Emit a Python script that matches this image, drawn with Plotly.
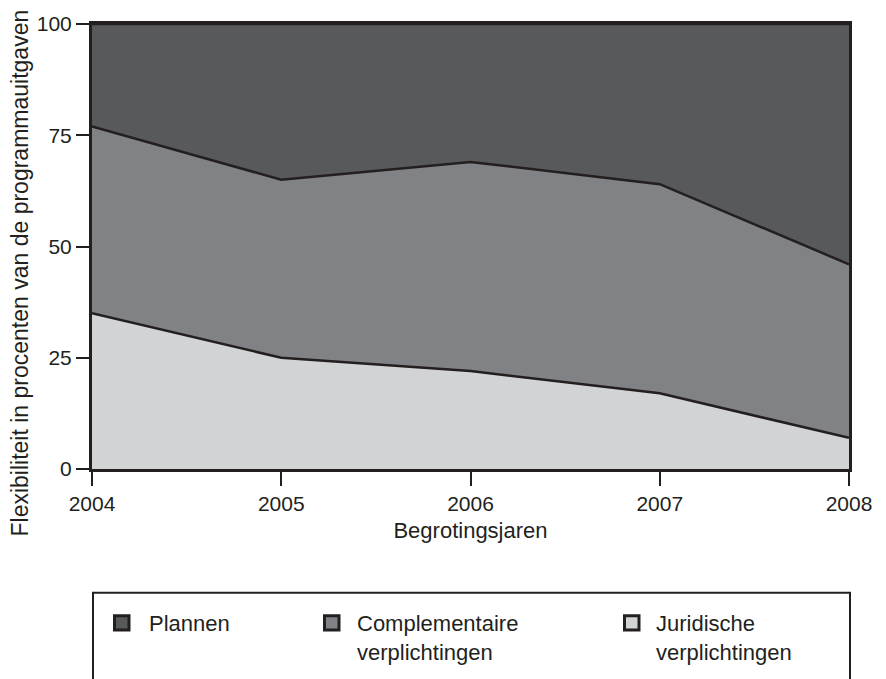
import plotly.graph_objects as go

years = [2004, 2005, 2006, 2007, 2008]
juridische = [35, 25, 22, 17, 7]
complementaire = [42, 40, 47, 47, 39]
plannen = [23, 35, 31, 36, 54]

series_names = ["Plannen", "Complementaire<br>verplichtingen", "Juridische<br>verplichtingen"]
series_colors = ["#58595b", "#808285", "#d1d3d4"]
y_ticks = [0, 25, 50, 75, 100]

INK = "#231f20"
FONT = "Liberation Sans, Arial, sans-serif"

W, H = 886, 679
L, R, T, B = 92, 849, 16, 469

def px(x):
    return (x - L) / (R - L)

def py(y):
    return (B - y) / (B - T)

fig = go.Figure()
for name, vals, col in [("Juridische", juridische, series_colors[2]),
                        ("Complementaire", complementaire, series_colors[1]),
                        ("Plannen", plannen, series_colors[0])]:
    fig.add_trace(go.Scatter(
        x=years, y=vals, name=name, mode="lines", stackgroup="one",
        line=dict(color=INK, width=2.5), fillcolor=col, showlegend=False,
        hoverinfo="skip",
    ))

shapes = []
annotations = []

# legend box
shapes.append(dict(type="rect", xref="paper", yref="paper",
                   x0=px(93), x1=px(850), y0=py(720), y1=py(595),
                   line=dict(color=INK, width=2), fillcolor="rgba(0,0,0,0)", layer="above"))

leg_x = [113, 323, 623]
text_x = [147, 355, 654]
for i, (name, col) in enumerate(zip(series_names, series_colors)):
    x0 = leg_x[i]
    shapes.append(dict(type="rect", xref="paper", yref="paper",
                       x0=px(x0 + 1.5), x1=px(x0 + 16), y0=py(633), y1=py(618.5),
                       line=dict(color=INK, width=3), fillcolor=col, layer="above"))
    annotations.append(dict(xref="paper", yref="paper", x=px(text_x[i]), y=py(612),
                            xanchor="left", yanchor="top", align="left",
                            text=name, showarrow=False,
                            font=dict(family=FONT, size=22, color=INK)))

# y axis title
annotations.append(dict(xref="paper", yref="paper", x=px(20), y=py(270),
                        xanchor="center", yanchor="middle", textangle=-90,
                        text="Flexibiliteit in procenten van de programmauitgaven",
                        showarrow=False, font=dict(family=FONT, size=23, color=INK)))

fig.update_layout(
    width=W, height=H,
    margin=dict(l=L, r=W - R, t=T, b=H - B),
    paper_bgcolor="white", plot_bgcolor="white",
    font=dict(family=FONT, size=21, color=INK),
    shapes=shapes, annotations=annotations,
    xaxis=dict(range=[2004, 2008], tickvals=years, ticktext=[str(y) for y in years],
               ticks="outside", ticklen=14, tickwidth=1.5, tickcolor=INK,
               showline=True, linecolor=INK, linewidth=3, mirror=True,
               showgrid=False, zeroline=False,
               tickfont=dict(family=FONT, size=21, color=INK),
               title=dict(text="Begrotingsjaren", standoff=9,
                          font=dict(family=FONT, size=22, color=INK))),
    yaxis=dict(range=[0, 100], tickvals=y_ticks,
               ticks="outside", ticklen=13, tickwidth=1.5, tickcolor=INK,
               showline=True, linecolor=INK, linewidth=3, mirror=True,
               showgrid=False, zeroline=False,
               tickfont=dict(family=FONT, size=21, color=INK)),
)

fig.write_html("out.html", config={"displayModeBar": False},
               post_script="document.body.style.margin='0';document.body.style.overflow='hidden';")
